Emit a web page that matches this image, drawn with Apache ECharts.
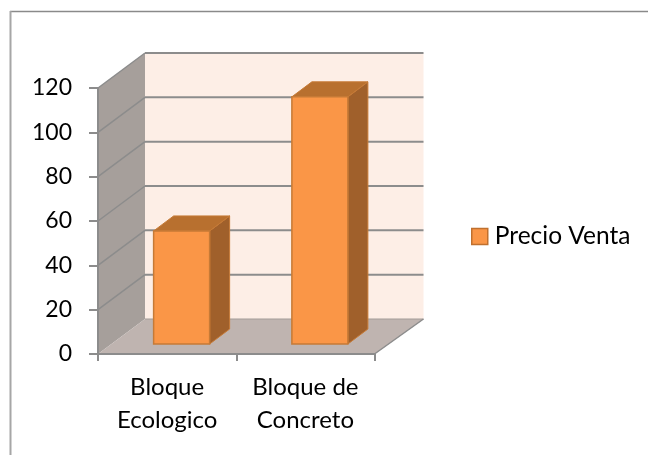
<!DOCTYPE html>
<html><head><meta charset="utf-8">
<style>html,body{margin:0;padding:0;background:#fff}#c{width:648px;height:455px}</style>
<script src="https://cdn.jsdelivr.net/npm/echarts@6/dist/echarts.min.js"></script>
</head><body><div id="c"></div>
<script>
const categories = ['Bloque\nEcologico', 'Bloque de\nConcreto'];
const precioVenta = [51, 111.5];
const yTicks = [0, 20, 40, 60, 80, 100, 120];
const seriesName = 'Precio Venta';

const DX = 47, DX_R = 49, DY = -35; // box depth
const BAR_DX = 14.5, BAR_DY = -10;  // bar's offset in the box
const BAR_DEPTH_X = 20, BAR_DEPTH_Y = -15;
const BAR_W = 56;
const GRID_C = '#8c8c8c';
const FONT = 'Lato';

const chart = echarts.init(document.getElementById('c'), null, {renderer: 'canvas'});

function poly(points, fill, stroke, lw) {
  return {type: 'polygon', shape: {points}, style: {fill, stroke: stroke || 'none', lineWidth: lw || 0, lineJoin: 'miter'}};
}
function seg(a, b, w, c) {
  return {type: 'line', shape: {x1: a[0], y1: a[1], x2: b[0], y2: b[1]}, style: {stroke: c || GRID_C, lineWidth: w || 2}};
}
function renderBox(params, api) {
  const r = params.coordSys;
  const L = r.x, R = r.x + r.width, T = r.y, B = r.y + r.height;
  const kids = [
    poly([[L + DX, T + DY], [R + DX_R, T + DY], [R + DX_R, B + DY], [L + DX, B + DY]], '#fdeee6'),
    poly([[L, T], [L + DX, T + DY], [L + DX, B + DY], [L, B]], '#a69f9b'),
    poly([[L, B], [L + DX, B + DY], [R + DX_R, B + DY], [R, B]], '#bfb4b0')
  ];
  yTicks.forEach(function (t) {
    const y = api.coord([0, t])[1];
    if (t > 0) {
      kids.push(seg([L, y], [L + DX, y + DY], 1.5));
      kids.push(seg([L + DX, y + DY], [R + DX_R, y + DY], 2));
    } else {
      kids.push(seg([L + DX, y + DY], [R + DX_R, y + DY], 1, '#a39c98'));
    }
  });
  kids.push(seg([R, B], [R + DX_R, B + DY], 1.5));
  return {type: 'group', children: kids};
}
function renderBar(params, api) {
  const p = api.coord([api.value(0), api.value(1)]);
  const base = api.coord([api.value(0), 0]);
  const x0 = p[0] + BAR_DX - BAR_W / 2, x1 = x0 + BAR_W;
  const yT = p[1] + BAR_DY, yB = base[1] + BAR_DY;
  const bx = BAR_DEPTH_X, by = BAR_DEPTH_Y, edge = '#c67a36';
  return {type: 'group', children: [
    poly([[x1, yT], [x1 + bx, yT + by], [x1 + bx, yB + by], [x1, yB]], '#a0602b', edge, 1),
    poly([[x0, yT], [x0 + bx, yT + by], [x1 + bx, yT + by], [x1, yT]], '#b8702f', edge, 1),
    poly([[x0, yT], [x1, yT], [x1, yB], [x0, yB]], '#fa9647', edge, 1.5)
  ]};
}

chart.setOption({
  animation: false,
  backgroundColor: '#ffffff',
  graphic: [
    {type: 'line', silent: true, z: -1, shape: {x1: 10, y1: 11.5, x2: 648, y2: 11.5}, style: {stroke: '#8a8a8a', lineWidth: 1.5}},
    {type: 'line', silent: true, z: -1, shape: {x1: 10.5, y1: 11, x2: 10.5, y2: 455}, style: {stroke: '#a6a6a6', lineWidth: 2}}
  ],
  grid: {left: 98, top: 88, width: 276.5, height: 266, containLabel: false},
  legend: {
    data: [{name: seriesName}],
    left: 471, top: 224, padding: 0, itemWidth: 16, itemHeight: 16, itemGap: 0,
    icon: 'rect',
    itemStyle: {color: '#fa9647', borderColor: '#c0702e', borderWidth: 1.5},
    textStyle: {fontFamily: FONT, fontSize: 24.5, color: '#000', padding: [0, 0, 0, 2]}
  },
  xAxis: {
    type: 'category', data: categories, z: 3,
    axisLine: {lineStyle: {color: GRID_C, width: 2}},
    axisTick: {show: true, length: 7, alignWithLabel: false, lineStyle: {color: GRID_C, width: 2}},
    axisLabel: {fontFamily: FONT, fontSize: 24, color: '#000', lineHeight: 33, margin: 17}
  },
  yAxis: {
    type: 'value', min: 0, max: 120, interval: 20, z: 3,
    axisLine: {show: true, lineStyle: {color: GRID_C, width: 2}},
    axisTick: {show: true, length: 9, lineStyle: {color: GRID_C, width: 2}},
    axisLabel: {fontFamily: FONT, fontSize: 23, color: '#000', margin: 26},
    splitLine: {show: false}
  },
  series: [
    {type: 'custom', name: 'box', silent: true, z: 1, renderItem: renderBox, data: [[0, 0]], encode: {x: 0, y: 1}},
    {type: 'custom', name: seriesName, z: 4, renderItem: renderBar,
     itemStyle: {color: '#fa9647'},
     data: precioVenta.map(function (v, i) { return [i, v]; }), encode: {x: 0, y: 1}}
  ]
});
</script></body></html>
